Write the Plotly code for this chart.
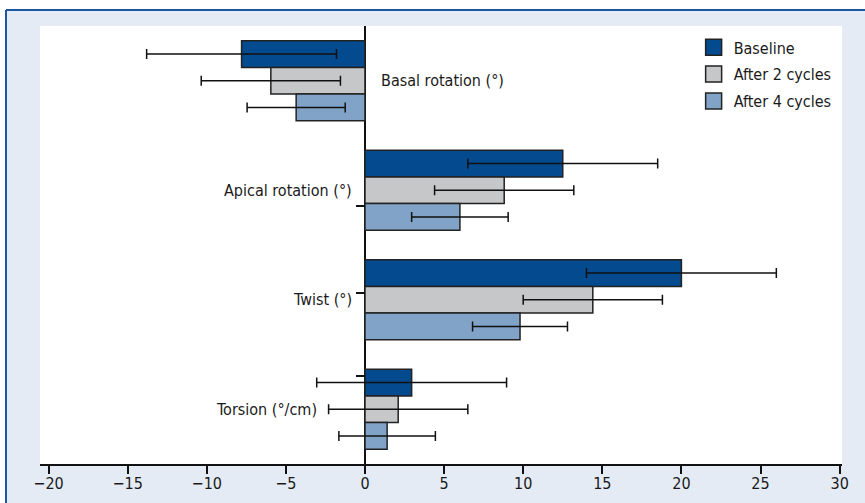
import plotly.graph_objects as go

# Measures (mean values) and their standard deviations
categories = ["Basal rotation (°)", "Apical rotation (°)", "Twist (°)", "Torsion (°/cm)"]
series_names = ["Baseline", "After 2 cycles", "After 4 cycles"]

baseline = [-7.8, 12.5, 20.0, 2.95]
baseline_sd = [6.0, 6.0, 6.0, 6.0]

after2 = [-5.95, 8.8, 14.4, 2.1]
after2_sd = [4.4, 4.4, 4.4, 4.4]

after4 = [-4.35, 6.0, 9.8, 1.4]
after4_sd = [3.1, 3.05, 3.0, 3.05]

x_ticks = [-20, -15, -10, -5, 0, 5, 10, 15, 20, 25, 30]
x_range = [-20.54, 30.15]

colors = ["#034a8e", "#c6c7c9", "#80a3c7"]
FONT = "Liberation Sans Narrow, Arial Narrow, DejaVu Sans Condensed, sans-serif"
BG = "#e4ebf4"

W, H = 865, 503
ML, MR, MT, MB = 40, 23, 26, 39
plot_w = W - ML - MR
plot_h = H - MT - MB

fig = go.Figure()

for name, vals, sds, col in zip(series_names, [baseline, after2, after4],
                                [baseline_sd, after2_sd, after4_sd], colors):
    fig.add_trace(go.Bar(
        y=categories, x=vals, orientation="h", name=name,
        marker=dict(color=col, line=dict(color="#222222", width=1.5)),
        error_x=dict(type="data", array=sds, visible=True,
                     color="#111111", thickness=1.5, width=5),
        showlegend=False, hoverinfo="x",
    ))

# legend entries drawn as square swatches
for name, col in zip(series_names, colors):
    fig.add_trace(go.Scatter(
        x=[None], y=[None], mode="markers", name=name, legendgroup=name,
        marker=dict(symbol="square", size=18, color=col,
                    line=dict(color="#222222", width=1.5)),
    ))

# helper axes: short ticks along the zero line, long ticks under the x axis
zero_pos = (0 - x_range[0]) / (x_range[1] - x_range[0])
fig.add_trace(go.Scatter(x=[None], y=[None], yaxis="y2", showlegend=False,
                         hoverinfo="skip"))
fig.add_trace(go.Scatter(x=[None], y=[None], xaxis="x2", showlegend=False,
                         hoverinfo="skip"))

# category labels next to the zero line (pixel offsets from x = 0)
label_shift = [14, -11, -11, -46]
for cat, shift in zip(categories, label_shift):
    fig.add_annotation(
        x=0, y=cat, xref="x", yref="y", text=cat, showarrow=False,
        xanchor="left" if shift > 0 else "right", xshift=shift,
        font=dict(family=FONT, size=16, color="#1a1a1a"),
    )

# framed panel: white page edge, tinted panel, blue frame line
left_px = (6 - ML) / plot_w
top_px = 1 + (MT - 10) / plot_h
fig.add_shape(type="rect", xref="paper", yref="paper", x0=-1, x1=left_px,
              y0=-1, y1=2, fillcolor="white", line_width=0, layer="below")
fig.add_shape(type="rect", xref="paper", yref="paper", x0=-1, x1=2,
              y0=top_px, y1=2, fillcolor="white", line_width=0, layer="below")
fig.add_shape(type="line", xref="paper", yref="paper", x0=left_px, x1=left_px,
              y0=-1, y1=top_px, line=dict(color="#1c57a3", width=2))
fig.add_shape(type="line", xref="paper", yref="paper", x0=left_px, x1=2,
              y0=top_px, y1=top_px, line=dict(color="#1c57a3", width=2))

fig.update_layout(
    width=W, height=H,
    margin=dict(l=ML, r=MR, t=MT, b=MB, pad=0, autoexpand=False),
    paper_bgcolor=BG, plot_bgcolor="white",
    barmode="group", bargap=0.27, bargroupgap=0,
    font=dict(family=FONT, size=16, color="#1a1a1a"),
    showlegend=True,
    legend=dict(x=0.815, y=0.99, xanchor="left", yanchor="top",
                bgcolor="rgba(0,0,0,0)", borderwidth=0,
                font=dict(family=FONT, size=16, color="#1a1a1a"),
                tracegroupgap=3, itemsizing="trace"),
    xaxis=dict(range=x_range, tickvals=x_ticks, ticks="outside", ticklen=4,
               tickwidth=1.5, tickcolor="#111111", showline=True,
               linecolor="#111111", linewidth=1.5, showgrid=False,
               zeroline=True, zerolinecolor="#111111", zerolinewidth=1.5,
               automargin=False,
               tickfont=dict(family=FONT, size=16, color="#1a1a1a")),
    xaxis2=dict(overlaying="x", anchor="y", side="bottom", range=x_range,
                tickvals=x_ticks, ticks="outside", ticklen=9, tickwidth=1.5,
                tickcolor="#111111", showticklabels=False, showgrid=False,
                showline=False, zeroline=False, automargin=False),
    yaxis=dict(categoryorder="array", categoryarray=categories,
               autorange="reversed", showticklabels=False, showgrid=False,
               showline=False, ticks="", zeroline=False, automargin=False),
    yaxis2=dict(overlaying="y", anchor="free", position=zero_pos, side="left",
                range=[1, 0], tickvals=[0.41, 0.61, 0.80], ticks="outside",
                ticklen=9, tickwidth=1.5, tickcolor="#111111",
                showticklabels=False, showgrid=False, showline=False,
                zeroline=False, automargin=False),
)

fig.write_html("out.html")
